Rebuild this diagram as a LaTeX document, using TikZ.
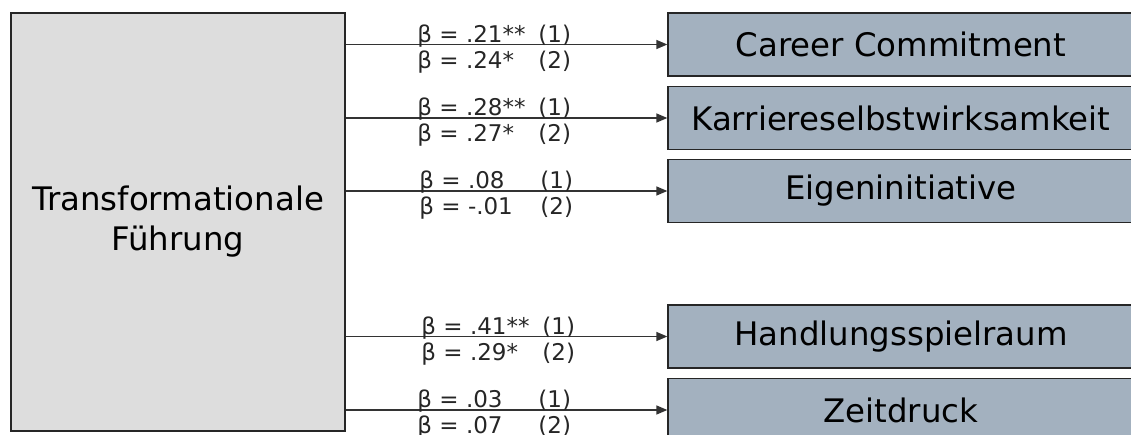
\documentclass[tikz,border=0pt]{standalone}
\usepackage{fontspec}
\setmainfont{DejaVu Sans}
\usetikzlibrary{arrows.meta}
\definecolor{leftfill}{HTML}{DDDDDD}
\definecolor{rightfill}{HTML}{A3B1BF}
\definecolor{linecol}{HTML}{333333}
\tikzset{
  x=1pt, y=1pt,
  srcbox/.style={draw=black!85, line width=1.3pt, fill=leftfill, minimum width=334pt, minimum height=418pt, inner sep=0pt, align=center, font=\fontsize{32.4}{40}\selectfont},
  tgtbox/.style={draw=black!85, line width=1.3pt, fill=rightfill, minimum width=466pt, minimum height=63pt, inner sep=0pt, font=\fontsize{32.4}{40}\selectfont},
  conn/.style={draw=linecol, line width=1.4pt, -{Triangle[length=11pt,width=9pt]}},
  lab/.style={inner sep=0pt, font=\fontsize{23}{27}\selectfont, text=black!85},
}
\newcommand{\bl}[2]{\makebox[121pt][l]{#1}#2}
\begin{document}
\begin{tikzpicture}
\useasboundingbox (0,0) rectangle (1131,-434);
\node[srcbox] (tf) at (178,-222) {Transformationale\\Führung};
\node[tgtbox] (cc) at (901,-44.5) {Career Commitment};
\node[tgtbox] (ks) at (901,-118) {Karriereselbstwirksamkeit};
\node[tgtbox] (ei) at (901,-191) {Eigeninitiative};
\node[tgtbox] (hs) at (901,-336.5) {Handlungsspielraum};
\node[tgtbox] (zd) at (901,-410) {Zeitdruck};
\foreach \t/\a/\b/\c/\d/\s in {cc/.21**/(1)/.24*/(2)/0, ks/.28**/(1)/.27*/(2)/0, ei/.08/(1)/-.01/(2)/2, hs/.41**/(1)/.29*/(2)/4, zd/.03/(1)/.07/(2)/0}{
  \draw[conn] (tf.east |- \t.west) -- (\t.west)
    node[lab, pos=0.221, anchor=base west, yshift=2.5pt, xshift=\s pt] {\bl{β = \a}{\b}}
    node[lab, pos=0.221, anchor=base west, yshift=-23.5pt, xshift=\s pt] {\bl{β = \c}{\d}};
}
\end{tikzpicture}
\end{document}
